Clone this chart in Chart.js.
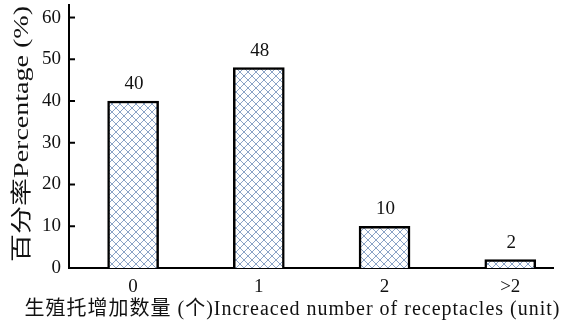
<!DOCTYPE html>
<html lang="zh">
<head>
    <meta charset="UTF-8">
    <title>生殖托增加数量</title>
    <script src="https://cdn.jsdelivr.net/npm/chart.js"></script>
    <style>
        body { margin: 0; background: white; }
        #wrap { width: 568px; height: 326px; }
    </style>
</head>
<body>
    <div id="wrap"><canvas id="chart" width="568" height="326"></canvas></div>

    <script>
        // data
        const categories = ['0', '1', '2', '>2'];
        const percentages = [40, 48, 10, 2];
        const yTicks = [0, 10, 20, 30, 40, 50, 60];
        const yTitle = '百分率Percentage (%)';
        const xTitle = '生殖托增加数量 (个)Increaced number of receptacles (unit)';

        const FONT = "'Liberation Serif', 'Noto Sans CJK SC', serif";

        // cross-hatch fill like the printed bars
        function makePattern() {
            const c = document.createElement('canvas');
            c.width = 8; c.height = 8;
            const g = c.getContext('2d');
            g.fillStyle = '#ffffff';
            g.fillRect(0, 0, 8, 8);
            g.strokeStyle = '#8aa3c6';
            g.lineWidth = 1;
            g.beginPath();
            g.moveTo(0, 0); g.lineTo(8, 8);
            g.moveTo(0, 8); g.lineTo(8, 0);
            g.stroke();
            return g.createPattern(c, 'repeat');
        }

        // draw text letter-spaced to a given width
        function spreadText(ctx, text, cx, cy, width) {
            ctx.letterSpacing = '0px';
            const natural = ctx.measureText(text).width;
            const sp = Math.max(0, (width - natural) / (text.length - 1));
            ctx.letterSpacing = sp + 'px';
            // letterSpacing adds trailing space after last char too
            ctx.fillText(text, cx + sp / 2, cy);
            ctx.letterSpacing = '0px';
        }

        // draw text stretched horizontally to a given width
        function stretchText(ctx, text, cx, cy, width) {
            const natural = ctx.measureText(text).width;
            ctx.save();
            ctx.translate(cx, cy);
            ctx.scale(width / natural, 1);
            ctx.fillText(text, 0, 0);
            ctx.restore();
        }

        // inward y ticks, value labels, axis titles
        const extras = {
            id: 'extras',
            afterDraw(chart) {
                const ctx = chart.ctx;
                const y = chart.scales.y;
                const x = chart.scales.x;
                ctx.save();
                ctx.strokeStyle = '#000';
                ctx.lineWidth = 2;
                yTicks.forEach(v => {
                    if (v === 0) return;
                    const py = y.getPixelForValue(v);
                    ctx.beginPath();
                    ctx.moveTo(x.left, py);
                    ctx.lineTo(x.left + 6, py);
                    ctx.stroke();
                });

                ctx.fillStyle = '#111';
                ctx.font = '19px ' + FONT;
                ctx.textAlign = 'center';
                ctx.textBaseline = 'alphabetic';
                chart.getDatasetMeta(0).data.forEach((bar, i) => {
                    ctx.fillText(String(percentages[i]), bar.x + 1, bar.y - 12);
                });

                ctx.font = '20px ' + FONT;
                ctx.textBaseline = 'middle';
                spreadText(ctx, xTitle, 292, 310, 535);

                ctx.font = '21px ' + FONT;
                ctx.translate(22, 134);
                ctx.rotate(-Math.PI / 2);
                stretchText(ctx, yTitle, 0, 0, 256);
                ctx.restore();
            }
        };

        const ctx = document.getElementById('chart').getContext('2d');
        new Chart(ctx, {
            type: 'bar',
            data: {
                datasets: [{
                    data: percentages.map((v, i) => ({ x: i, y: v })),
                    backgroundColor: makePattern(),
                    borderColor: '#000',
                    borderWidth: 2.5,
                    borderSkipped: 'bottom',
                    barThickness: 51
                }]
            },
            plugins: [extras],
            options: {
                responsive: false,
                animation: false,
                layout: { padding: { left: 0, right: 15, top: 5, bottom: 0 } },
                plugins: { legend: { display: false }, tooltip: { enabled: false } },
                scales: {
                    x: {
                        type: 'linear',
                        offset: false,
                        min: -0.51,
                        max: 3.34,
                        afterBuildTicks: s => { s.ticks = categories.map((c, i) => ({ value: i })); },
                        afterFit: s => { s.height = 58; s.paddingLeft = 0; s.paddingRight = 0; },
                        grid: { display: false, drawTicks: false },
                        border: { display: true, color: '#000', width: 2 },
                        ticks: {
                            padding: 8,
                            color: '#111',
                            font: { family: FONT, size: 19 },
                            callback: v => categories[v]
                        }
                    },
                    y: {
                        min: 0,
                        max: 63,
                        afterBuildTicks: s => { s.ticks = yTicks.map(v => ({ value: v })); },
                        afterFit: s => { s.width = 69; s.paddingTop = 0; s.paddingBottom = 0; },
                        grid: { display: false, drawTicks: false },
                        border: { display: true, color: '#000', width: 2 },
                        ticks: {
                            padding: 8,
                            color: '#111',
                            font: { family: FONT, size: 19 }
                        }
                    }
                }
            }
        });
    </script>
</body>
</html>
